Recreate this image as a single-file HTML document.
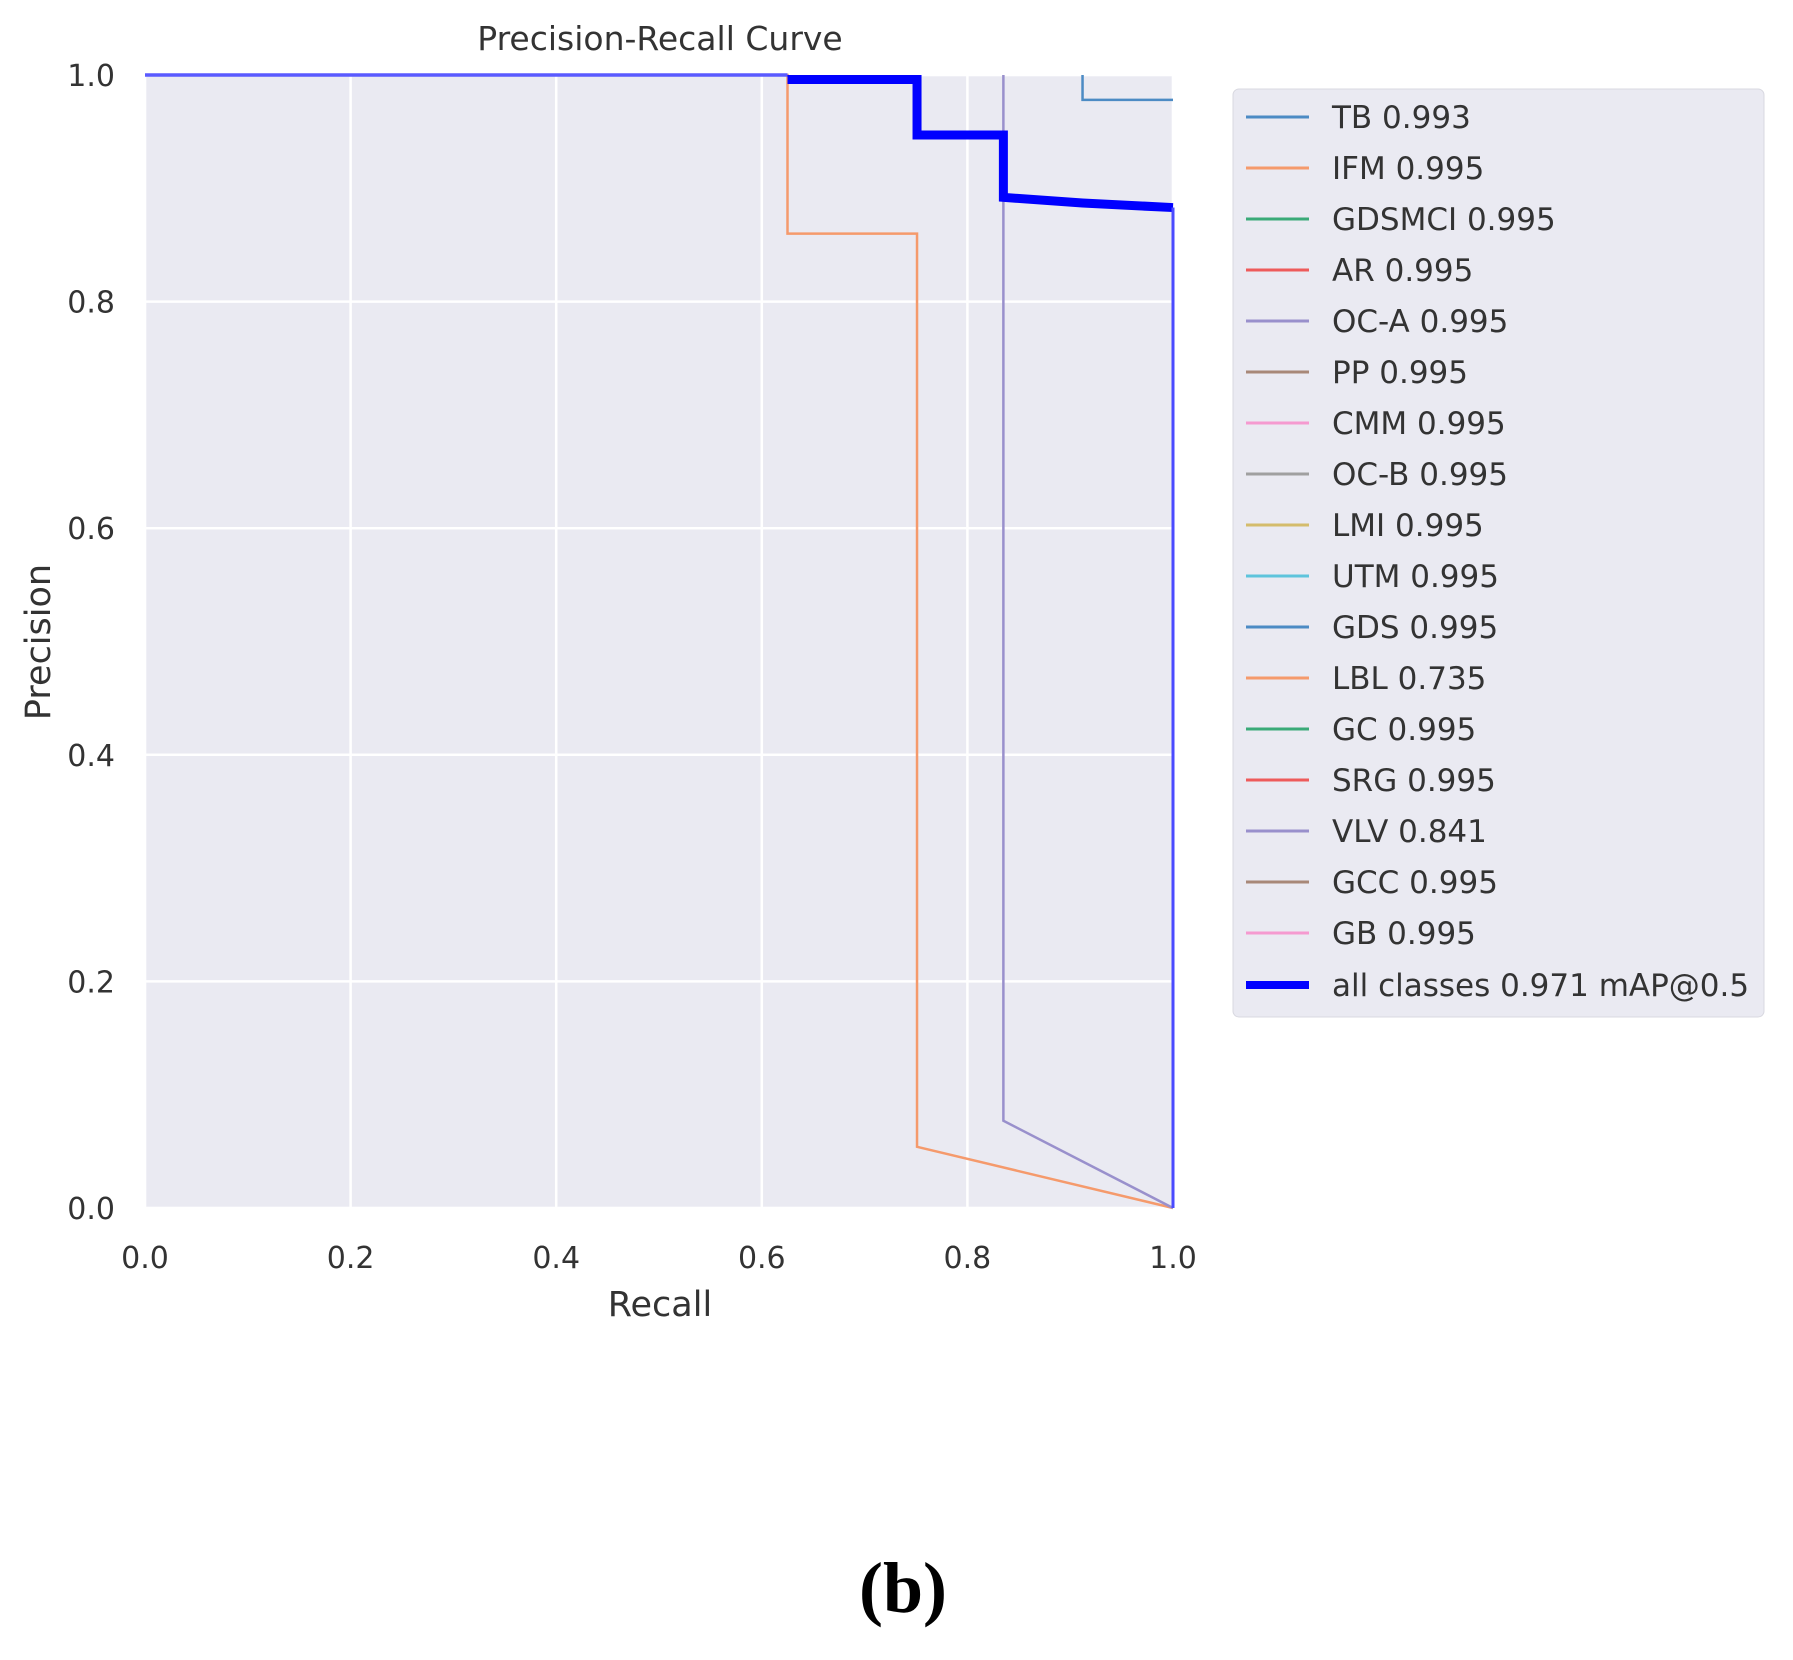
<!DOCTYPE html>
<html><head><meta charset="utf-8"><style>
body{margin:0;background:#fff;}
svg text{font-family:"DejaVu Sans","Liberation Sans",sans-serif;fill:#333;}
</style></head><body>
<svg width="1793" height="1655" viewBox="0 0 1793 1655" xmlns="http://www.w3.org/2000/svg">
<rect x="145" y="75" width="1028" height="1133" fill="#eaeaf2"/>
<g id="grid"></g>
<g id="ticks"></g>
<g id="series"></g>
<text x="660" y="50" font-size="33" text-anchor="middle">Precision-Recall Curve</text>
<text x="660" y="1316" font-size="35" text-anchor="middle">Recall</text>
<text x="50" y="642" font-size="35" text-anchor="middle" transform="rotate(-90 50 642)">Precision</text>
<rect x="1233" y="89" width="531" height="928" rx="6" fill="#eaeaf2" stroke="#d8d8e0"/>
<g id="legend"></g>
<text x="903" y="1612" font-size="72" font-weight="bold" text-anchor="middle" style="font-family:'Liberation Serif',serif;fill:#000">(b)</text>
</svg>
<script>
const ticks=[0,0.2,0.4,0.6,0.8,1.0];
const tickLabels=["0.0","0.2","0.4","0.6","0.8","1.0"];
const legendNames=["TB 0.993","IFM 0.995","GDSMCI 0.995","AR 0.995","OC-A 0.995","PP 0.995","CMM 0.995","OC-B 0.995","LMI 0.995","UTM 0.995","GDS 0.995","LBL 0.735","GC 0.995","SRG 0.995","VLV 0.841","GCC 0.995","GB 0.995","all classes 0.971 mAP@0.5"];
const legendColors=["#4c8bc4","#f59a6c","#3aaa78","#ee5b5b","#9990cc","#a88878","#f59ad0","#a0a0a0","#d4bc6c","#5ec4dc","#4c8bc4","#f59a6c","#3aaa78","#ee5b5b","#9990cc","#a88878","#f59ad0","#0000ff"];
const tbX=[0.912,0.912,1.0], tbY=[1.0,0.978,0.978];
const lblX=[0,0.625,0.625,0.751,0.751,1.0], lblY=[1.0,1.0,0.860,0.860,0.054,0.0];
const vlvX=[0.835,0.835,1.0], vlvY=[1.0,0.077,0.0];
const allX=[0,0.625,0.625,0.751,0.751,0.835,0.835,0.912,1.0,1.0], allY=[1.0,1.0,0.996,0.996,0.947,0.947,0.892,0.887,0.883,0.0];
const X=v=>145+v*1028, Y=v=>1208-v*1133;
const NS="http://www.w3.org/2000/svg";
function mk(t,a,p){const e=document.createElementNS(NS,t);for(const k in a)e.setAttribute(k,a[k]);p.appendChild(e);return e;}
const grid=document.getElementById('grid'),tk=document.getElementById('ticks'),sr=document.getElementById('series'),lg=document.getElementById('legend');
ticks.forEach((t,i)=>{
 let g1=mk('line',{x1:X(t),x2:X(t),y1:75,y2:1208,stroke:'#fff','stroke-width':2.5},grid);
 
 
 let g2=mk('line',{x1:145,x2:1173,y1:Y(t),y2:Y(t),stroke:'#fff','stroke-width':2.5},grid);
 
 
 let a=mk('text',{x:X(t),y:1268,'font-size':30,'text-anchor':'middle'},tk);a.textContent=tickLabels[i];
 
 
 let b=mk('text',{x:115,y:Y(t)+11,'font-size':30,'text-anchor':'end'},tk);b.textContent=tickLabels[i];
 
 
});
function line(xs,ys,c,w,name){const pts=xs.map((x,i)=>X(x)+','+Y(ys[i])).join(' ');
 const p=mk('polyline',{points:pts,fill:'none',stroke:c,'stroke-width':w,'stroke-linejoin':'miter'},sr);
 
 }
line(tbX,tbY,'#4c8bc4',2.5,'tb-curve');
line(lblX,lblY,'#f59a6c',2.5,'lbl-curve');
line(vlvX,vlvY,'#9990cc',2.5,'vlv-curve');
line(allX.slice(0,2),allY.slice(0,2),'#5a5aff',3.5,'all-classes-flat');
line(allX.slice(2,9),allY.slice(2,9),'#0000ff',9,'all-classes-curve');
line(allX.slice(8),allY.slice(8),'#4a4aff',3,'all-classes-drop');
legendNames.forEach((n,i)=>{const y=117+51*i+(i==17?1:0);
 const l=mk('line',{x1:1246,x2:1309,y1:y,y2:y,stroke:legendColors[i],'stroke-width':i==17?8:3},lg);
 
 
 const t=mk('text',{x:1332,y:y+11,'font-size':31},lg);t.textContent=n;
 
 });
</script>
</body></html>
